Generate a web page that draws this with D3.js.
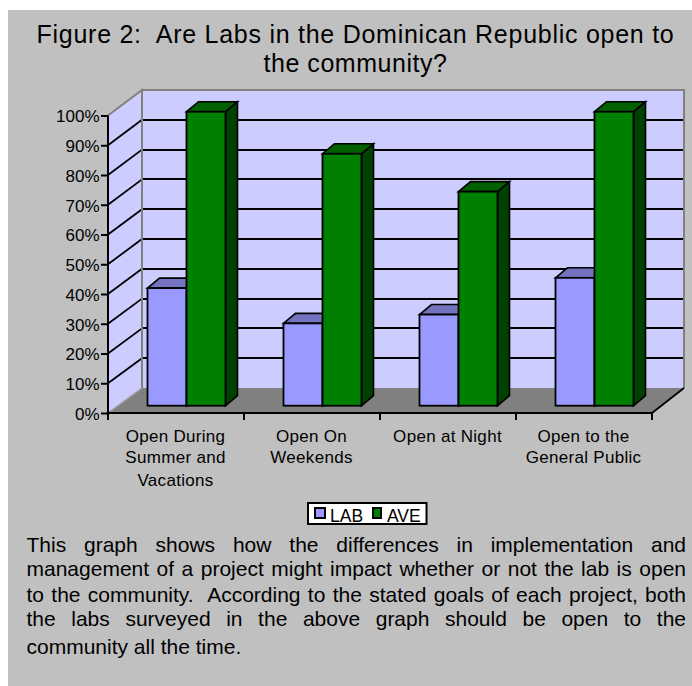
<!DOCTYPE html>
<html><head><meta charset="utf-8">
<script src="https://cdn.jsdelivr.net/npm/d3@7/dist/d3.min.js"></script>
<style>
html,body{margin:0;padding:0;background:#fff;overflow:hidden}
svg{display:block;font-family:"Liberation Sans",Arial,sans-serif}
text{white-space:pre;fill:#000}
</style></head><body>
<svg id="c" width="692" height="686"></svg>
<script>
const categories = [
  ["Open During","Summer and","Vacations"],
  ["Open On","Weekends"],
  ["Open at Night"],
  ["Open to the","General Public"]
];
const seriesNames = ["LAB","AVE"];
const labValues = [40, 28, 31, 43.5];
const aveValues = [100, 85.7, 72.8, 100];
const yTicks = [0,10,20,30,40,50,60,70,80,90,100];
const titleLines = ["Figure 2:  Are Labs in the Dominican Republic open to","the community?"];
const bodyLines = [
  "This graph shows how the differences in implementation and",
  "management of a project might impact whether or not the lab is open",
  "to the community.  According to the stated goals of each project, both",
  "the labs surveyed in the above graph should be open to the",
  "community all the time."
];
const fillLab = {front:"#9999FF", top:"#7373BF", side:"#4D4D80"};
const fillAve = {front:"#008000", top:"#006000", side:"#004000"};

const svg = d3.select("#c");
svg.append("rect").attr("x",8).attr("y",10).attr("width",684).attr("height",676).attr("fill","#C0C0C0");

// scales
const xFront = d3.scaleBand().domain(d3.range(categories.length)).range([108,652]);
const yFront = d3.scaleLinear().domain([0,100]).range([413,115.5]);
const yBack  = d3.scaleLinear().domain([0,100]).range([388,90]);
const yBar   = d3.scaleLinear().domain([0,100]).range([405.7,111.7]);
const xSeries = d3.scaleBand().domain(seriesNames).range([39.5,117.5]);
const dx = 34;          // wall depth, x
const barDx = 12, barDy = 10;
const poly = p => p.map(a=>a.join(",")).join(" ");
const xL = xFront.range()[0], xR = xFront.range()[1];

// walls and floor
svg.append("polygon").attr("points",poly([[xL,yFront(0)],[xL+dx,yBack(0)],[xL+dx,yBack(100)],[xL,yFront(100)]])).attr("fill","#CCCCFF");
svg.append("polygon").attr("points",poly([[xL+dx,yBack(0)],[xR+dx-2,yBack(0)],[xR+dx-2,yBack(100)],[xL+dx,yBack(100)]])).attr("fill","#CCCCFF");
svg.append("polygon").attr("points",poly([[xL,yFront(0)],[xL+dx,yBack(0)],[xR+dx-2,yBack(0)],[xR,yFront(0)]])).attr("fill","#808080");

// gridlines
const grid = yTicks.filter(t=>t>0&&t<100);
svg.append("g").selectAll("line").data(grid).join("line")
  .attr("x1",xL+dx).attr("x2",xR+dx-2).attr("y1",d=>Math.round(yBack(d))).attr("y2",d=>Math.round(yBack(d)))
  .attr("stroke","#000").attr("stroke-width",2).attr("shape-rendering","crispEdges");
svg.append("g").selectAll("line").data(grid).join("line")
  .attr("x1",xL).attr("x2",xL+dx).attr("y1",d=>yFront(d)).attr("y2",d=>yBack(d))
  .attr("stroke","#000").attr("stroke-width",1.8);

// wall borders
svg.append("polyline").attr("points",poly([[xL,yFront(100)],[xL+dx,yBack(100)],[xL+dx,yBack(0)]]))
  .attr("fill","none").attr("stroke","#808080").attr("stroke-width",2);
svg.append("polyline").attr("points",poly([[xL+dx,yBack(100)],[xR+dx-2,yBack(100)],[xR+dx-2,yBack(0)]]))
  .attr("fill","none").attr("stroke","#808080").attr("stroke-width",2);
svg.append("line").attr("x1",xL).attr("y1",yFront(0)).attr("x2",xL+dx).attr("y2",yBack(0)).attr("stroke","#A0A0A0").attr("stroke-width",1.5);
svg.append("line").attr("x1",xR).attr("y1",yFront(0)).attr("x2",xR+dx-2).attr("y2",yBack(0)).attr("stroke","#000").attr("stroke-width",1.8);

// bars
function bars(values,name,c){
  const g = svg.append("g").selectAll("g").data(values).join("g");
  const X = i => xFront(i)+xSeries(name), W = xSeries.bandwidth();
  g.append("polygon").attr("points",(d,i)=>poly([[X(i)+W,yBar(d)],[X(i)+W+barDx,yBar(d)-barDy],[X(i)+W+barDx,yBar(0)-barDy],[X(i)+W,yBar(0)]]))
    .attr("fill",c.side);
  g.append("polygon").attr("points",(d,i)=>poly([[X(i),yBar(d)],[X(i)+barDx,yBar(d)-barDy],[X(i)+W+barDx,yBar(d)-barDy],[X(i)+W,yBar(d)]]))
    .attr("fill",c.top);
  g.selectAll("polygon").attr("stroke","#000").attr("stroke-width",1.6).attr("stroke-linejoin","miter");
  g.append("rect").attr("x",(d,i)=>X(i)).attr("y",d=>yBar(d)).attr("width",W).attr("height",d=>yBar(0)-yBar(d))
    .attr("fill",c.front).attr("stroke","#000").attr("stroke-width",1.8);
}
bars(labValues,"LAB",fillLab);
bars(aveValues,"AVE",fillAve);

// y axis
const yAxis = d3.axisLeft(yFront).tickValues(yTicks).tickFormat(d=>d+"%").tickSize(7).tickPadding(1.5);
const gy = svg.append("g").attr("transform",`translate(${xL},0)`).call(yAxis);
gy.select(".domain").attr("stroke","#000").attr("stroke-width",2).attr("d",`M0,${yFront(0)}V${yFront(100)}`);
gy.selectAll(".tick line").attr("stroke","#000").attr("stroke-width",2);
gy.selectAll("text").attr("font-size",17).attr("font-family","Liberation Sans").attr("dy","0.38em").attr("fill","#000");

// x axis
const gx = svg.append("g");
gx.append("line").attr("x1",xL-1).attr("x2",xR).attr("y1",yFront(0)).attr("y2",yFront(0)).attr("stroke","#000").attr("stroke-width",2);
gx.selectAll(".t").data(d3.range(categories.length+1)).join("line").attr("class","t")
  .attr("x1",i=>xL+i*xFront.step()).attr("x2",i=>xL+i*xFront.step())
  .attr("y1",yFront(0)).attr("y2",yFront(0)+7).attr("stroke","#000").attr("stroke-width",2);
const cat = gx.selectAll(".cat").data(categories).join("text").attr("class","cat")
  .attr("text-anchor","middle").attr("font-size",17).attr("letter-spacing",0.3)
  .attr("transform",(d,i)=>`translate(${xFront(i)+xFront.bandwidth()/2-0.5},442)`);
cat.selectAll("tspan").data(d=>d).join("tspan").attr("x",0).attr("y",(d,i)=>[0,21,44][i]).text(d=>d);

// title
const titleW = [638,184];
svg.append("g").selectAll("text").data(titleLines).join("text")
  .attr("x",355.5).attr("y",(d,i)=>[43,72][i]).attr("text-anchor","middle").attr("font-size",25).text(d=>d)
  .each(function(d,i){
    const w = this.getComputedTextLength();
    d3.select(this).attr("letter-spacing",(titleW[i]-w)/d.length);
  });

// legend
const lg = svg.append("g");
lg.append("rect").attr("x",308).attr("y",503).attr("width",118.5).attr("height",21).attr("fill","#fff").attr("stroke","#000").attr("stroke-width",2);
const swX = {LAB:315,AVE:373}, txX = {LAB:330,AVE:387};
const colors = {LAB:fillLab.front,AVE:fillAve.front};
seriesNames.forEach(n=>{
  lg.append("rect").attr("x",swX[n]).attr("y",508).attr("width",n==="LAB"?10:8).attr("height",10).attr("fill",colors[n]).attr("stroke","#000").attr("stroke-width",2);
  lg.append("text").attr("x",txX[n]).attr("y",521.5).attr("font-size",17.5).text(n);
});

// body text, justified
const bodyY = [552,576,602,626,654], bodyL = 26.5, bodyR = 686;
svg.append("g").selectAll("text").data(bodyLines).join("text")
  .attr("x",bodyL).attr("y",(d,i)=>bodyY[i]).attr("font-size",21).text(d=>d)
  .each(function(d,i){
    if(i===bodyLines.length-1) return;
    const w = this.getComputedTextLength();
    const gaps = (d.match(/ /g)||[]).length;
    d3.select(this).attr("word-spacing",(bodyR-bodyL-w)/gaps);
  });
</script>
</body></html>
